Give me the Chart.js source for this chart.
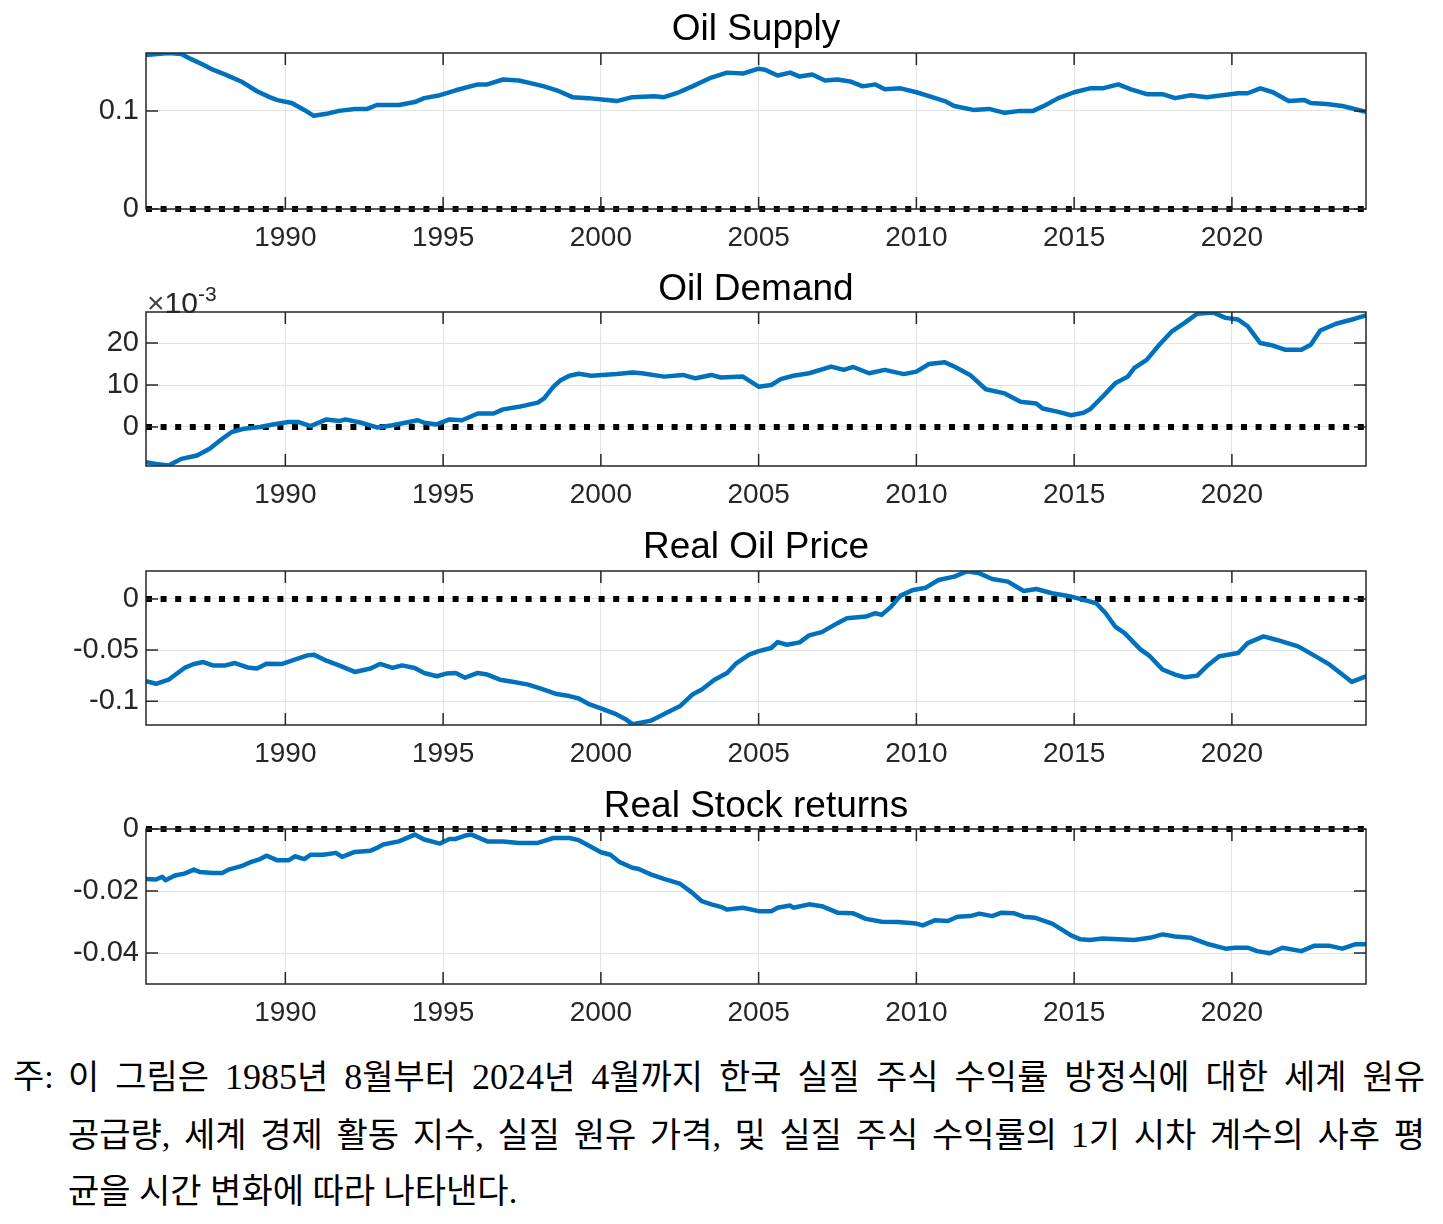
<!DOCTYPE html>
<html>
<head>
<meta charset="utf-8">
<script src="https://cdn.jsdelivr.net/npm/chart.js@4.4.1/dist/chart.umd.min.js"></script>
<style>
  html, body { margin: 0; padding: 0; background: #fff; }
  body { width: 1443px; height: 1224px; position: relative; overflow: hidden; }
  canvas { position: absolute; left: 0; }
  .title {
    position: absolute; left: 146px; width: 1220px; text-align: center;
    font-family: 'Liberation Sans', Arial, sans-serif; font-size: 37px;
    line-height: 44px; color: #000; z-index: 2; white-space: nowrap;
  }
  .exp {
    position: absolute; left: 147px; top: 277px;
    font-family: 'Liberation Sans', Arial, sans-serif; font-size: 30px;
    line-height: 34px; color: #262626; z-index: 2;
  }
  .exp .times { font-weight: 300; color: #444; }
  .exp sup { font-size: 21px; vertical-align: 12px; }
  .note {
    position: absolute; top: 1049px;
    font-family: 'Liberation Serif', 'Noto Sans CJK KR', serif;
    font-size: 34px; line-height: 56.5px; color: #000;
  }
  .note .num { font-size: 36px; }
  .note-label { left: 13px; }
  .note-body { left: 68px; width: 1357px; }
  .note-body div { white-space: nowrap; }
  .note-body .just { text-align: justify; text-align-last: justify; }
</style>
</head>
<body>

<div class="title" style="top:6px">Oil Supply</div>
<div class="title" style="top:266px">Oil Demand</div>
<div class="title" style="top:524px">Real Oil Price</div>
<div class="title" style="top:783px">Real Stock returns</div>
<div class="exp"><span class="times">&times;</span>10<sup>-3</sup></div>

<canvas id="supplyChart"></canvas>
<canvas id="demandChart"></canvas>
<canvas id="priceChart"></canvas>
<canvas id="stockChart"></canvas>

<div class="note note-label">주:</div>
<div class="note note-body">
  <div class="just">이 그림은 <span class="num">1985</span>년 <span class="num">8</span>월부터 <span class="num">2024</span>년 <span class="num">4</span>월까지 한국 실질 주식 수익률 방정식에 대한 세계 원유</div>
  <div class="just">공급량, 세계 경제 활동 지수, 실질 원유 가격, 및 실질 주식 수익률의 <span class="num">1</span>기 시차 계수의 사후 평</div>
  <div>균을 시간 변화에 따라 나타낸다.</div>
</div>

<script>
// sample period: Aug 1985 - Apr 2024
const xStart = 1985 + 7 / 12;
const xEnd = 2024 + 3 / 12;
const xTicks = [1990, 1995, 2000, 2005, 2010, 2015, 2020];
const xTickLabels = ['1990', '1995', '2000', '2005', '2010', '2015', '2020'];

// Oil Supply
const supplyYears = [1985.58, 1986.3, 1986.7, 1987.0, 1987.4, 1987.7, 1988.1, 1988.6, 1989.1, 1989.5,
  1989.75, 1990.2, 1990.6, 1990.9, 1991.3, 1991.7, 1992.2, 1992.6, 1992.9, 1993.6,
  1994.1, 1994.4, 1994.9, 1995.4, 1996.1, 1996.4, 1996.9, 1997.4, 1997.8, 1998.2,
  1998.6, 1999.1, 1999.6, 2000.2, 2000.5, 2001.0, 2001.7, 2002.0, 2002.4, 2002.9,
  2003.5, 2004.0, 2004.5, 2005.0, 2005.2, 2005.6, 2006.0, 2006.3, 2006.7, 2007.1,
  2007.5, 2007.9, 2008.3, 2008.7, 2009.0, 2009.5, 2010.0, 2010.4, 2010.9, 2011.2,
  2011.8, 2012.3, 2012.8, 2013.3, 2013.7, 2014.1, 2014.5, 2015.0, 2015.5, 2015.9,
  2016.4, 2016.8, 2017.3, 2017.8, 2018.2, 2018.7, 2019.2, 2019.7, 2020.2, 2020.5,
  2020.9, 2021.3, 2021.8, 2022.3, 2022.5, 2023.0, 2023.5, 2024.25];
const supplyValues = [0.157, 0.159, 0.158, 0.153, 0.147, 0.142, 0.137, 0.130, 0.120, 0.114,
  0.111, 0.108, 0.101, 0.095, 0.097, 0.100, 0.102, 0.102, 0.106, 0.106,
  0.109, 0.113, 0.116, 0.121, 0.127, 0.127, 0.132, 0.131, 0.128, 0.125,
  0.121, 0.114, 0.113, 0.111, 0.110, 0.114, 0.115, 0.114, 0.118, 0.125,
  0.134, 0.139, 0.138, 0.143, 0.142, 0.136, 0.139, 0.135, 0.137, 0.131,
  0.132, 0.130, 0.125, 0.127, 0.122, 0.123, 0.119, 0.115, 0.110, 0.105,
  0.101, 0.102, 0.098, 0.100, 0.100, 0.106, 0.113, 0.119, 0.123, 0.123,
  0.127, 0.122, 0.117, 0.117, 0.113, 0.116, 0.114, 0.116, 0.118, 0.118,
  0.123, 0.119, 0.110, 0.111, 0.108, 0.107, 0.105, 0.099];
const supplyTicks = [0, 0.1];
const supplyTickLabels = ['0', '0.1'];

// Oil Demand (x 10^-3)
const demandYears = [1985.58, 1985.9, 1986.3, 1986.7, 1987.2, 1987.6, 1988.0, 1988.3, 1988.7, 1989.2,
  1989.6, 1990.1, 1990.4, 1990.8, 1991.3, 1991.7, 1991.9, 1992.4, 1992.9, 1993.4,
  1994.2, 1994.4, 1994.8, 1995.2, 1995.6, 1996.1, 1996.6, 1996.9, 1997.4, 1998.0,
  1998.2, 1998.5, 1998.7, 1999.0, 1999.3, 1999.7, 2000.5, 2001.0, 2001.3, 2002.0,
  2002.6, 2003.0, 2003.5, 2003.8, 2004.5, 2005.0, 2005.4, 2005.7, 2006.1, 2006.6,
  2007.3, 2007.7, 2008.0, 2008.5, 2009.0, 2009.6, 2010.0, 2010.4, 2010.9, 2011.2,
  2011.7, 2012.2, 2012.8, 2013.3, 2013.8, 2014.0, 2014.5, 2014.9, 2015.3, 2015.5,
  2015.9, 2016.3, 2016.7, 2016.9, 2017.3, 2017.7, 2018.1, 2018.5, 2018.9, 2019.4,
  2019.8, 2020.2, 2020.5, 2020.9, 2021.3, 2021.7, 2022.2, 2022.5, 2022.8, 2023.3,
  2023.9, 2024.25];
const demandValues = [-8.4, -8.8, -9.2, -7.6, -6.8, -5.2, -2.8, -1.2, -0.4, 0.0,
  0.6, 1.2, 1.2, 0.2, 1.8, 1.4, 1.8, 1.0, -0.1, 0.4,
  1.6, 1.0, 0.6, 1.8, 1.6, 3.2, 3.2, 4.2, 4.8, 5.8,
  6.8, 9.6, 11.0, 12.2, 12.7, 12.2, 12.6, 13.0, 12.8, 12.0,
  12.4, 11.6, 12.4, 11.8, 12.0, 9.6, 10.0, 11.4, 12.2, 12.8,
  14.4, 13.6, 14.3, 12.8, 13.6, 12.6, 13.2, 15.0, 15.4, 14.4,
  12.4, 9.0, 8.0, 6.0, 5.6, 4.4, 3.6, 2.8, 3.4, 4.2,
  7.2, 10.4, 12.0, 14.0, 16.0, 19.6, 22.8, 24.8, 27.0, 27.3,
  26.0, 25.6, 24.0, 20.0, 19.4, 18.4, 18.4, 19.6, 23.0, 24.6,
  25.8, 26.6];
const demandTicks = [0, 10, 20];
const demandTickLabels = ['0', '10', '20'];

// Real Oil Price
const priceYears = [1985.58, 1985.9, 1986.3, 1986.8, 1987.1, 1987.4, 1987.7, 1988.1, 1988.4, 1988.8,
  1989.1, 1989.4, 1989.9, 1990.3, 1990.7, 1990.9, 1991.3, 1991.7, 1992.2, 1992.7,
  1993.0, 1993.4, 1993.7, 1994.1, 1994.4, 1994.8, 1995.1, 1995.4, 1995.7, 1996.1,
  1996.4, 1996.8, 1997.2, 1997.7, 1998.1, 1998.6, 1999.0, 1999.3, 1999.6, 2000.0,
  2000.5, 2000.8, 2001.0, 2001.6, 2002.1, 2002.5, 2002.9, 2003.2, 2003.6, 2004.0,
  2004.3, 2004.7, 2005.0, 2005.4, 2005.6, 2005.9, 2006.3, 2006.6, 2007.0, 2007.5,
  2007.8, 2008.4, 2008.7, 2008.9, 2009.2, 2009.5, 2009.9, 2010.3, 2010.7, 2011.2,
  2011.6, 2012.0, 2012.4, 2012.9, 2013.4, 2013.8, 2014.3, 2014.9, 2015.3, 2015.7,
  2016.0, 2016.3, 2016.6, 2017.1, 2017.4, 2017.8, 2018.2, 2018.5, 2018.9, 2019.2,
  2019.6, 2020.2, 2020.5, 2021.0, 2021.4, 2022.1, 2022.6, 2023.1, 2023.5, 2023.8,
  2024.25];
const priceValues = [-0.0805, -0.083, -0.079, -0.0675, -0.0636, -0.0617, -0.065, -0.065, -0.0627, -0.067,
  -0.068, -0.0633, -0.0636, -0.0594, -0.0552, -0.0545, -0.0604, -0.065, -0.0714, -0.068,
  -0.0636, -0.0675, -0.065, -0.0675, -0.0724, -0.0756, -0.073, -0.0724, -0.077, -0.0724,
  -0.074, -0.079, -0.081, -0.0838, -0.0877, -0.093, -0.095, -0.0974, -0.1026, -0.107,
  -0.113, -0.118, -0.1225, -0.119, -0.111, -0.105, -0.0935, -0.0886, -0.079, -0.0724,
  -0.0627, -0.0545, -0.051, -0.048, -0.0422, -0.0448, -0.0425, -0.0357, -0.0325, -0.0237,
  -0.0188, -0.0172, -0.014, -0.0156, -0.0075, 0.0032, 0.0088, 0.011, 0.0185, 0.0218,
  0.027, 0.025, 0.0195, 0.0169, 0.0078, 0.0097, 0.0055, 0.0023, -0.001, -0.0042,
  -0.014, -0.027, -0.0334, -0.0494, -0.056, -0.069, -0.074, -0.0766, -0.075, -0.0659,
  -0.056, -0.0529, -0.0432, -0.0367, -0.0399, -0.0464, -0.0552, -0.0643, -0.074, -0.0812,
  -0.0757];
const priceTicks = [-0.1, -0.05, 0];
const priceTickLabels = ['-0.1', '-0.05', '0'];

// Real Stock returns
const stockYears = [1985.58, 1985.9, 1986.1, 1986.2, 1986.5, 1986.8, 1987.1, 1987.3, 1987.7, 1988.0,
  1988.2, 1988.6, 1988.9, 1989.2, 1989.4, 1989.75, 1990.1, 1990.3, 1990.6, 1990.8,
  1991.2, 1991.6, 1991.8, 1992.2, 1992.7, 1992.9, 1993.1, 1993.6, 1994.1, 1994.4,
  1994.9, 1995.2, 1995.4, 1995.7, 1995.9, 1996.4, 1996.9, 1997.4, 1998.0, 1998.5,
  1999.0, 1999.3, 1999.7, 2000.0, 2000.3, 2000.6, 2001.0, 2001.2, 2001.6, 2002.0,
  2002.5, 2002.9, 2003.2, 2003.5, 2003.8, 2004.0, 2004.5, 2005.0, 2005.4, 2005.6,
  2006.0, 2006.1, 2006.6, 2007.0, 2007.5, 2008.0, 2008.4, 2008.9, 2009.4, 2010.0,
  2010.2, 2010.6, 2011.0, 2011.3, 2011.7, 2012.0, 2012.4, 2012.7, 2013.1, 2013.4,
  2013.75, 2014.3, 2014.6, 2014.9, 2015.2, 2015.5, 2015.9, 2016.4, 2016.9, 2017.4,
  2017.8, 2018.2, 2018.7, 2019.2, 2019.8, 2020.1, 2020.5, 2020.8, 2021.2, 2021.6,
  2022.2, 2022.6, 2023.1, 2023.5, 2023.9, 2024.25];
const stockValues = [-0.0161, -0.0163, -0.0154, -0.0165, -0.015, -0.0144, -0.0131, -0.0139, -0.0142, -0.0142,
  -0.0131, -0.012, -0.0107, -0.0097, -0.0086, -0.0101, -0.0101, -0.0088, -0.0097, -0.0083,
  -0.0083, -0.0077, -0.009, -0.0074, -0.007, -0.0061, -0.005, -0.004, -0.0018, -0.0034,
  -0.0047, -0.0032, -0.0032, -0.0021, -0.0018, -0.004, -0.004, -0.0045, -0.0045, -0.0029,
  -0.0029, -0.0036, -0.0058, -0.0075, -0.0083, -0.0107, -0.0125, -0.0129, -0.0147, -0.0161,
  -0.0176, -0.0206, -0.0233, -0.0243, -0.0251, -0.026, -0.0254, -0.0265, -0.0265, -0.0254,
  -0.0247, -0.0254, -0.0243, -0.0249, -0.027, -0.0272, -0.029, -0.0299, -0.030, -0.0305,
  -0.0311, -0.0294, -0.0297, -0.0283, -0.0281, -0.0273, -0.0281, -0.027, -0.0272, -0.0283,
  -0.0286, -0.0305, -0.0324, -0.0343, -0.0356, -0.0358, -0.0353, -0.0356, -0.0358, -0.0351,
  -0.034, -0.0347, -0.0351, -0.037, -0.0386, -0.0383, -0.0383, -0.0394, -0.0401, -0.0383,
  -0.0394, -0.0377, -0.0377, -0.0386, -0.0372, -0.0372];
const stockTicks = [-0.04, -0.02, 0];
const stockTickLabels = ['-0.04', '-0.02', '0'];

const lineBlue = '#0072BD';
const axisColor = '#262626';
const gridColor = '#e3e3e3';

Chart.defaults.font.family = "'Liberation Sans', Arial, sans-serif";
Chart.defaults.font.size = 28;
Chart.defaults.color = axisColor;

// MATLAB-style box with ticks pointing inward on all four sides
const boxAxesPlugin = {
  id: 'boxAxes',
  afterDraw(chart) {
    const { ctx, chartArea: a, scales } = chart;
    const len = 12;
    ctx.save();
    ctx.strokeStyle = axisColor;
    ctx.lineWidth = 1.5;
    ctx.strokeRect(a.left, a.top, a.right - a.left, a.bottom - a.top);
    ctx.beginPath();
    scales.x.ticks.forEach(t => {
      const px = scales.x.getPixelForValue(t.value);
      ctx.moveTo(px, a.bottom); ctx.lineTo(px, a.bottom - len);
      ctx.moveTo(px, a.top); ctx.lineTo(px, a.top + len);
    });
    scales.y.ticks.forEach(t => {
      const py = scales.y.getPixelForValue(t.value);
      ctx.moveTo(a.left, py); ctx.lineTo(a.left + len, py);
      ctx.moveTo(a.right, py); ctx.lineTo(a.right - len, py);
    });
    ctx.stroke();
    ctx.restore();
  }
};

const padTop = 25;
const xAxisHeight = 50;

function createPanel(id, years, values, yMin, yMax, yTicks, yTickLabels, plotTop, plotBottom) {
  const canvas = document.getElementById(id);
  const h = Math.round(plotBottom - plotTop) + padTop + xAxisHeight;
  canvas.width = 1443;
  canvas.height = h;
  canvas.style.width = '1443px';
  canvas.style.height = h + 'px';
  canvas.style.top = (plotTop - padTop) + 'px';

  const series = years.map((yr, i) => ({ x: yr, y: values[i] }));
  const zeroLine = [{ x: xStart, y: 0 }, { x: xEnd, y: 0 }];

  new Chart(canvas, {
    type: 'line',
    data: {
      datasets: [
        {
          data: series,
          borderColor: lineBlue,
          borderWidth: 4.5,
          pointRadius: 0,
          tension: 0,
          borderJoinStyle: 'round',
          borderCapStyle: 'round',
          fill: false
        },
        {
          data: zeroLine,
          borderColor: '#000',
          borderWidth: 6,
          borderDash: [6, 8.6],
          borderCapStyle: 'butt',
          pointRadius: 0,
          fill: false,
          clip: 6
        }
      ]
    },
    options: {
      responsive: false,
      animation: false,
      devicePixelRatio: 1,
      layout: { padding: { left: 0, right: 77, top: padTop, bottom: 0 } },
      plugins: {
        legend: { display: false },
        tooltip: { enabled: false }
      },
      scales: {
        x: {
          type: 'linear',
          min: xStart,
          max: xEnd,
          afterBuildTicks: scale => { scale.ticks = xTicks.map(v => ({ value: v })); },
          afterFit: scale => { scale.height = xAxisHeight; },
          grid: { color: gridColor, lineWidth: 1, drawTicks: false },
          border: { display: false },
          ticks: {
            autoSkip: false,
            maxRotation: 0,
            minRotation: 0,
            padding: 12,
            callback: (value, index) => xTickLabels[index]
          }
        },
        y: {
          type: 'linear',
          min: yMin,
          max: yMax,
          afterBuildTicks: scale => { scale.ticks = yTicks.map(v => ({ value: v })); },
          afterFit: scale => { scale.width = 146; },
          grid: { color: gridColor, lineWidth: 1, drawTicks: false },
          border: { display: false },
          ticks: {
            padding: 7,
            font: { size: 29 },
            callback: (value, index) => yTickLabels[index]
          }
        }
      }
    },
    plugins: [boxAxesPlugin]
  });
}

createPanel('supplyChart', supplyYears, supplyValues, 0, 0.159, supplyTicks, supplyTickLabels, 53, 209);
createPanel('demandChart', demandYears, demandValues, -9.3, 27.4, demandTicks, demandTickLabels, 312, 466);
createPanel('priceChart', priceYears, priceValues, -0.1233, 0.0273, priceTicks, priceTickLabels, 571, 725);
createPanel('stockChart', stockYears, stockValues, -0.05, 0, stockTicks, stockTickLabels, 829, 984);
</script>
</body>
</html>
